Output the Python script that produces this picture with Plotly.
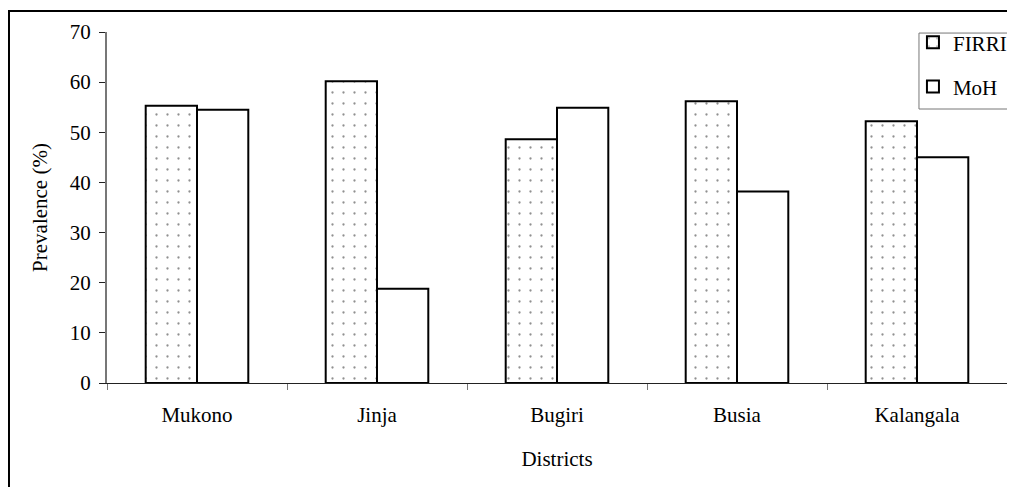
import plotly.graph_objects as go

districts = ["Mukono", "Jinja", "Bugiri", "Busia", "Kalangala"]
firri = [55.3, 60.2, 48.6, 56.2, 52.2]
moh = [54.5, 18.8, 54.9, 38.2, 45.0]
y_ticks = [0, 10, 20, 30, 40, 50, 60, 70]

font_family = "Liberation Serif"

fig = go.Figure()
fig.add_trace(go.Bar(
    name="FIRRI", x=districts, y=firri, legendgroup="a",
    marker=dict(color="white", line=dict(color="black", width=2),
                pattern=dict(shape=".", size=11, solidity=0.035, fgcolor="#222222", bgcolor="white")),
))
fig.add_trace(go.Bar(
    name="MoH", x=districts, y=moh, legendgroup="b",
    marker=dict(color="white", line=dict(color="black", width=2)),
))

fig.update_layout(
    width=1007, height=479,
    margin=dict(l=99, r=8, t=24, b=104, autoexpand=False),
    paper_bgcolor="white", plot_bgcolor="white",
    font=dict(family=font_family, size=21, color="black"),
    barmode="group", bargap=0.43, bargroupgap=0,
    showlegend=True,
    legend=dict(x=0.8955, y=1.028, xanchor="left", yanchor="top",
                borderwidth=0, bgcolor="rgba(0,0,0,0)",
                font=dict(size=21, family=font_family), tracegroupgap=14,
                itemwidth=30, itemsizing="constant"),
    xaxis=dict(
        title=dict(text="Districts", standoff=25, font=dict(size=21)),
        showline=True, linecolor="#222222", linewidth=1,
        ticks="outside", tickson="boundaries", ticklen=6, tickcolor="#777777",
        ticklabelstandoff=13,
        showgrid=False, zeroline=False, automargin=False,
    ),
    yaxis=dict(
        title=dict(text="Prevalence (%)", standoff=16, font=dict(size=21)),
        range=[0, 70], tickvals=y_ticks, ticktext=[str(v) for v in y_ticks],
        showline=True, linecolor="#777777", linewidth=2,
        ticks="outside", ticklen=6, tickcolor="#222222", ticklabelstandoff=4,
        showgrid=False, zeroline=False, automargin=False,
    ),
    shapes=[
        dict(type="rect", xref="paper", yref="paper",
             x0=-0.1089, x1=1.03, y0=-0.33, y1=1.0598,
             line=dict(color="black", width=2), fillcolor="rgba(0,0,0,0)", layer="below"),
        dict(type="rect", xref="paper", yref="paper",
             x0=0.9022, x1=1.0033, y0=0.7806, y1=0.997,
             line=dict(color="#777777", width=1), fillcolor="white", layer="above"),
    ],
)

fig.write_html("out.html")
